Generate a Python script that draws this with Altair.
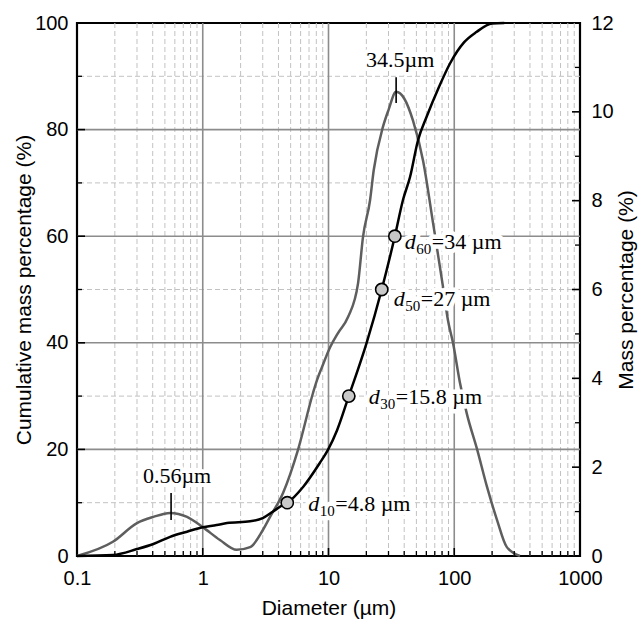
import altair as alt
import pandas as pd

# ---- data ----
cum_d = [0.1, 0.193, 0.30, 0.405, 0.55, 0.75, 1.0, 1.29, 1.56, 2.38, 3.0, 3.6, 4.35, 4.7,
         6.3, 8.5, 9.9, 11.7, 14.5, 20.1, 26.5, 33.7, 39.1, 44.5, 51.5, 60.3, 75, 92.5,
         120, 150, 200, 250]
cum_p = [0, 0.2, 1.3, 2.25, 3.6, 4.56, 5.4, 5.8, 6.2, 6.5, 7.1, 8.3, 9.6, 10,
         13, 17.4, 19.9, 23.6, 30, 40, 50, 60, 66.8, 71.1, 78, 82.4, 87.8, 92.4,
         96.4, 98.3, 99.9, 100]

mass_d = [0.1, 0.193, 0.30, 0.405, 0.55, 0.75, 1.0, 1.37, 1.86, 2.38, 3.0, 3.43, 4.35,
          5.72, 7.53, 8.1, 8.87, 10.3, 11.9, 14.3, 17.2, 18.8, 21.4, 22.9, 27.1, 30,
          34.5, 40, 47, 56.5, 67.8, 81.4, 89.2, 97.7, 111, 126, 152, 182, 219, 262, 333]
mass_p = [0, 0.32, 0.74, 0.88, 0.97, 0.88, 0.65, 0.36, 0.14, 0.2, 0.58, 0.88, 1.42,
          2.39, 3.67, 3.96, 4.25, 4.7, 5.02, 5.38, 6.15, 7.18, 8.01, 8.69, 9.66, 10.04,
          10.45, 10.3, 9.8, 8.9, 7.5, 6.06, 5.3, 4.8, 3.9, 3.2, 2.4, 1.56, 0.81, 0.2, 0]

mark_d = [4.7, 14.5, 26.5, 33.7]
mark_p = [10, 30, 50, 60]
mark_sub = ["10", "30", "50", "60"]
mark_rest = ["=4.8 µm", "=15.8 µm", "=27 µm", "=34 µm"]

peak_d = [0.56, 34.5]
peak_lo = [0.81, 10.2]
peak_hi = [1.42, 10.78]
peak_txt = ["0.56µm", "34.5µm"]

x_labels = [0.1, 1, 10, 100, 1000]
x_major = [1, 10, 100]
x_minor = [0.2, 0.3, 0.4, 0.5, 0.6, 0.7, 0.8, 0.9,
           2, 3, 4, 5, 6, 7, 8, 9,
           20, 30, 40, 50, 60, 70, 80, 90,
           200, 300, 400, 500, 600, 700, 800, 900]
yl_labels = [0, 20, 40, 60, 80, 100]
yl_major = [20, 40, 60, 80]
yl_minor = [10, 30, 50, 70, 90]
yr_labels = [0, 2, 4, 6, 8, 10, 12]
yr_major = [2, 4, 6, 8, 10]
yr_minor = [1, 3, 5, 7, 9, 11]

# ---- layout / style ----
W, H = 503, 533
SANS = "Liberation Sans"
SERIF = "Liberation Serif"
GRID_MINOR = "#c2c2c2"
GRID_MAJOR = "#8c8c8c"

XS = alt.Scale(type="log", domain=[0.1, 1000], nice=False)
YL = alt.Scale(domain=[0, 100], nice=False, zero=False)
YR = alt.Scale(domain=[0, 12], nice=False, zero=False)

XAX = alt.Axis(values=x_labels, format="~g", ticks=False, domain=False, grid=False,
               labelFont=SANS, labelFontSize=20, labelColor="black", labelPadding=12,
               labelFlush=False, labelOverlap=False,
               title="Diameter (µm)", titleFont=SANS, titleFontSize=21,
               titleFontWeight="normal", titleColor="black", titlePadding=9)
LAX = alt.Axis(values=yl_labels, ticks=False, domain=False, grid=False,
               labelFont=SANS, labelFontSize=20, labelColor="black", labelPadding=9,
               labelFlush=False, labelOverlap=False,
               title="Cumulative mass percentage (%)", titleFont=SANS, titleFontSize=21,
               titleFontWeight="normal", titleColor="black", titlePadding=0)
RAX = alt.Axis(values=yr_labels, orient="right", ticks=False, domain=False, grid=False,
               labelFont=SANS, labelFontSize=20, labelColor="black", labelPadding=11,
               labelFlush=False, labelOverlap=False,
               title="Mass percentage (%)", titleFont=SANS, titleFontSize=21,
               titleFontWeight="normal", titleColor="black", titlePadding=2,
               titleAngle=270, titleBaseline="top")


def xenc(field):
    return alt.X(field, type="quantitative", scale=XS, axis=XAX)


def vals(lst):
    return pd.DataFrame({"v": lst})


layers = []

# grid
layers.append(alt.Chart(vals(x_minor)).mark_rule(color=GRID_MINOR, strokeWidth=1, strokeDash=[5, 3])
              .encode(x=xenc("v")))
layers.append(alt.Chart(vals(yl_minor)).mark_rule(color=GRID_MINOR, strokeWidth=1, strokeDash=[5, 3])
              .encode(y=alt.Y("v:Q", scale=YL, axis=None)))
layers.append(alt.Chart(vals(x_major)).mark_rule(color=GRID_MAJOR, strokeWidth=1.6)
              .encode(x=xenc("v")))
layers.append(alt.Chart(vals(yl_major)).mark_rule(color=GRID_MAJOR, strokeWidth=1.6)
              .encode(y=alt.Y("v:Q", scale=YL, axis=None)))

# curves
mass_df = pd.DataFrame({"d": mass_d, "p": mass_p})
cum_df = pd.DataFrame({"d": cum_d, "p": cum_p})
layers.append(alt.Chart(mass_df).mark_line(color="#5e5e5e", strokeWidth=2.5, interpolate="monotone")
              .encode(x=xenc("d"), y=alt.Y("p:Q", scale=YR, axis=RAX)))
layers.append(alt.Chart(cum_df).mark_line(color="black", strokeWidth=2.5, interpolate="monotone")
              .encode(x=xenc("d"), y=alt.Y("p:Q", scale=YL, axis=LAX)))

# d-labels (white boxes behind, then markers, then text)
offsets = [(21, 8), (20, 8), (12, 16), (10, 13)]
text_layers = []
halo_layers = []
for i in range(4):
    df = pd.DataFrame({"d": [mark_d[i]], "p": [mark_p[i]], "s": [mark_sub[i]],
                       "r": [mark_rest[i]], "dd": ["d"]})
    dx, dy = offsets[i]
    parts = [("dd", dx, dy, 22, "italic"), ("s", dx + 11.5, dy + 5, 15, "normal"),
             ("r", dx + 27, dy, 22, "normal")]
    for field, ddx, ddy, fs, style in parts:
        base = alt.Chart(df).encode(x=xenc("d"), y=alt.Y("p:Q", scale=YL, axis=None),
                                    text=alt.Text(field + ":N"))
        halo_layers.append(base.mark_text(font=SERIF, fontSize=fs, fontStyle=style, align="left",
                                          baseline="alphabetic", dx=ddx, dy=ddy,
                                          color="white", stroke="white", strokeWidth=9,
                                          strokeJoin="round"))
        text_layers.append(base.mark_text(font=SERIF, fontSize=fs, fontStyle=style, align="left",
                                          baseline="alphabetic", dx=ddx, dy=ddy, color="black"))

layers += halo_layers

marker_df = pd.DataFrame({"d": mark_d, "p": mark_p})
layers.append(alt.Chart(marker_df).mark_circle(size=150, color="#c8c8c8", stroke="black",
                                               strokeWidth=1.6, opacity=1)
              .encode(x=xenc("d"), y=alt.Y("p:Q", scale=YL, axis=None)))
layers += text_layers

# peak markers and labels
peak_df = pd.DataFrame({"d": peak_d, "lo": peak_lo, "hi": peak_hi, "t": peak_txt})
layers.append(alt.Chart(peak_df).mark_rule(color="black", strokeWidth=1.6)
              .encode(x=xenc("d"), y=alt.Y("lo:Q", scale=YR, axis=None), y2="hi:Q"))
for i, pdx in enumerate([6, 4]):
    one = peak_df.iloc[[i]]
    base = alt.Chart(one).encode(x=xenc("d"), y=alt.Y("hi:Q", scale=YR, axis=None), text="t:N")
    layers.append(base.mark_text(font=SERIF, fontSize=22, align="center", baseline="alphabetic",
                                 dx=pdx, dy=-10, color="white", stroke="white", strokeWidth=8,
                                 strokeJoin="round"))
    layers.append(base.mark_text(font=SERIF, fontSize=22, align="center", baseline="alphabetic",
                                 dx=pdx, dy=-10, color="black"))

# inward axis ticks
layers.append(alt.Chart(vals(x_major)).mark_rule(color="black", strokeWidth=1.6)
              .encode(x=xenc("v"), y=alt.value(H), y2=alt.value(H - 8)))
layers.append(alt.Chart(vals(x_minor)).mark_rule(color="black", strokeWidth=1.3)
              .encode(x=xenc("v"), y=alt.value(H), y2=alt.value(H - 5)))
layers.append(alt.Chart(vals(yl_major)).mark_rule(color="black", strokeWidth=1.6)
              .encode(y=alt.Y("v:Q", scale=YL, axis=None), x=alt.value(0), x2=alt.value(8)))
layers.append(alt.Chart(vals(yl_minor)).mark_rule(color="black", strokeWidth=1.3)
              .encode(y=alt.Y("v:Q", scale=YL, axis=None), x=alt.value(0), x2=alt.value(5)))
layers.append(alt.Chart(vals(yr_major)).mark_rule(color="black", strokeWidth=1.6)
              .encode(y=alt.Y("v:Q", scale=YR, axis=None), x=alt.value(W), x2=alt.value(W - 8)))
layers.append(alt.Chart(vals(yr_minor)).mark_rule(color="black", strokeWidth=1.3)
              .encode(y=alt.Y("v:Q", scale=YR, axis=None), x=alt.value(W), x2=alt.value(W - 5)))

chart = (alt.layer(*layers)
         .resolve_scale(y="independent")
         .properties(width=W, height=H, autosize=alt.AutoSizeParams(type="none"),
                     padding={"left": 77, "top": 23, "right": 60, "bottom": 67},
                     background="white")
         .configure_view(stroke="black", strokeWidth=2.2))

chart.save("out.html", embed_options={"renderer": "svg", "actions": False})
